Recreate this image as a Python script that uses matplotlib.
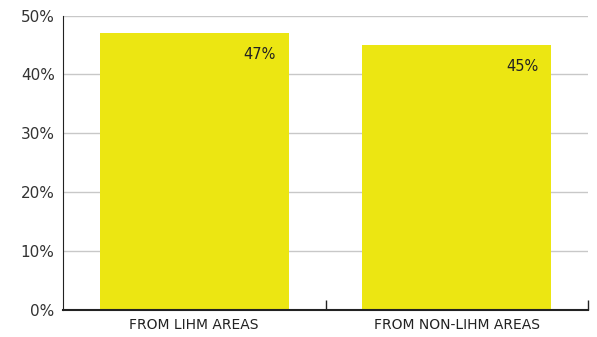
import matplotlib
matplotlib.use('Agg')
import matplotlib.pyplot as plt
from matplotlib.ticker import FixedLocator, FuncFormatter

# Data
categories = ['FROM LIHM AREAS', 'FROM NON-LIHM AREAS']
values = [47, 45]
labels = ['47%', '45%']
y_ticks = [0, 10, 20, 30, 40, 50]

plt.rcParams['font.family'] = ['DejaVu Sans']

fig = plt.figure(figsize=(5.97, 3.37), dpi=100)
ax = fig.add_axes([0.1055, 0.080, 0.8795, 0.874])

x = list(range(len(categories)))
bars = ax.bar(x, values, width=0.72, color='#ece612', zorder=2)

for xi, v, lab in zip(x, values, labels):
    ax.text(xi + 0.31, v - 3.6, lab, ha='right', va='center',
            fontsize=10.5, color='#222222', zorder=3)

ax.set_xlim(-0.5, len(categories) - 0.5)
ax.set_ylim(0, 50)
ax.set_yticks(y_ticks)
ax.yaxis.set_major_formatter(FuncFormatter(lambda v, p: f'{int(v)}%'))
ax.tick_params(axis='y', length=0, pad=6, labelsize=11, labelcolor='#333333')
ax.yaxis.grid(True, color='#c8c8c8', linewidth=1, zorder=0)

ax.set_xticks(x)
ax.set_xticklabels(categories)
ax.tick_params(axis='x', which='major', length=0, pad=6, labelsize=10, labelcolor='#222222')
ax.xaxis.set_minor_locator(FixedLocator([0.5, 1.5]))
ax.tick_params(axis='x', which='minor', direction='in', length=7, width=1, color='#222222')

for s in ['top', 'right']:
    ax.spines[s].set_visible(False)
ax.spines['left'].set_color('#222222')
ax.spines['bottom'].set_color('#222222')
ax.spines['bottom'].set_linewidth(1.5)

fig.savefig('out.png', dpi=100)
